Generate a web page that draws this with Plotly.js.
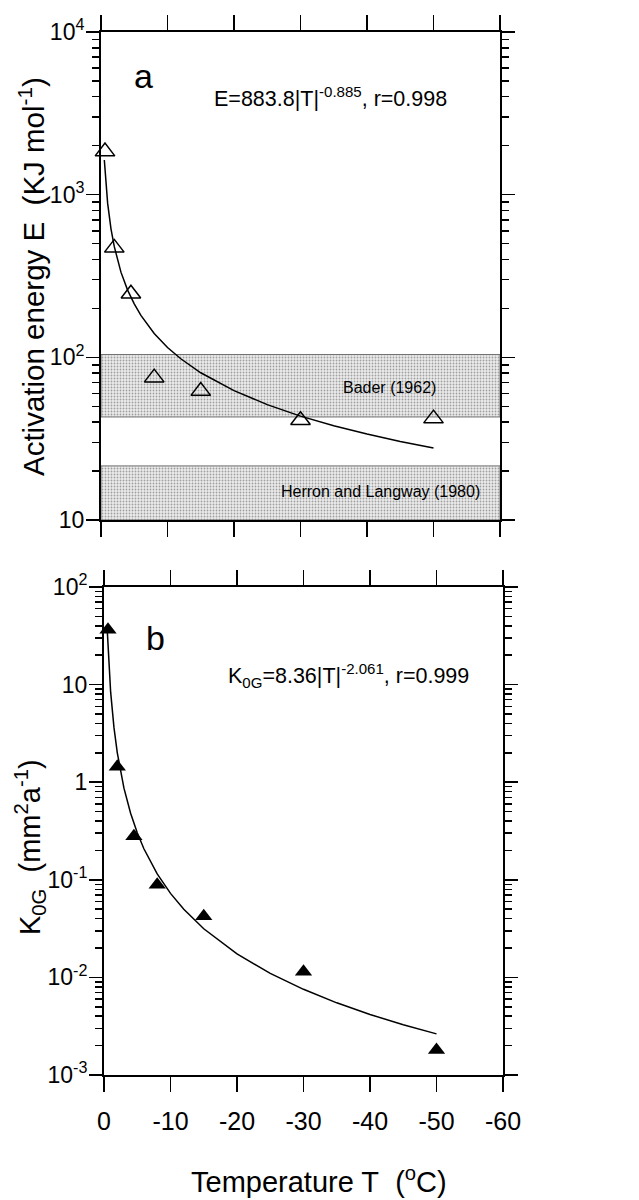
<!DOCTYPE html>
<html>
<head>
<meta charset="utf-8">
<script src="https://cdn.plot.ly/plotly-3.0.1.min.js"></script>
<style>html,body{margin:0;padding:0;background:#fff;}#chart{width:639px;height:1200px;}</style>
</head>
<body>
<div id="chart"></div>
<script>
// Observed temperatures (°C)
var obsT = [-0.6, -2, -4.5, -8, -15, -30, -50];
// Panel a: activation energy E (kJ/mol)
var obsE = [1840, 471, 246, 75, 62, 41, 42];
// Panel b: K0G (mm^2/a)
var obsK = [36.4, 1.44, 0.28, 0.089, 0.0423, 0.0114, 0.0018];
// Fitted curves
var fitT = [-0.5, -0.7, -1, -1.5, -2, -3, -4, -5, -6, -8, -10, -12, -15, -20, -25, -30, -35, -40, -45, -50];
var fitE = [1632, 1212, 884, 617, 479, 334, 259, 213, 181, 140, 115, 98, 80.4, 62.4, 51.2, 43.5, 38.0, 33.8, 30.4, 27.7];
var fitK = [34.9, 17.4, 8.36, 3.62, 2.00, 0.869, 0.480, 0.303, 0.208, 0.115, 0.0726, 0.0499, 0.0315, 0.0174, 0.0110, 0.00755, 0.00549, 0.00417, 0.00327, 0.00264];
// Reference ranges of E
var baderRange = [43, 104];
var herronRange = [10, 21.5];
var bandT = [0, -60];
// Tick labels
var xTicks = [0, -10, -20, -30, -40, -50, -60];
var xTickText = ['0', '-10', '-20', '-30', '-40', '-50', '-60'];
var yTicksA = [10, 100, 1000, 10000];
var yTickTextA = ['10', '10<sup>2</sup>', '10<sup>3</sup>', '10<sup>4</sup>'];
var yTicksB = [0.001, 0.01, 0.1, 1, 10, 100];
var yTickTextB = ['10<sup>-3</sup>', '10<sup>-2</sup>', '10<sup>-1</sup>', '1', '10', '10<sup>2</sup>'];

function minorVals(lo, hi) {
  var v = [];
  for (var e = lo; e < hi; e++) {
    for (var d = 2; d <= 9; d++) v.push(d * Math.pow(10, e));
  }
  return v;
}

function band(r, xa, ya) {
  return {
    x: [bandT[0], bandT[1], bandT[1], bandT[0], bandT[0]],
    y: [r[0], r[0], r[1], r[1], r[0]],
    xaxis: xa, yaxis: ya,
    mode: 'lines', fill: 'toself',
    fillcolor: 'rgb(225,225,225)',
    fillpattern: {shape: '.', fgcolor: 'rgb(160,160,160)', bgcolor: 'rgb(236,236,236)', size: 3, solidity: 0.3},
    line: {color: 'rgb(110,110,110)', width: 1},
    hoverinfo: 'skip'
  };
}

var FONT = 'Liberation Sans, Arial, sans-serif';
var NARROW = 'Liberation Sans Narrow, Liberation Sans, Arial, sans-serif';

var traces = [
  band(baderRange, 'x', 'y'),
  band(herronRange, 'x', 'y'),
  {x: fitT, y: fitE, xaxis: 'x', yaxis: 'y', mode: 'lines', line: {color: '#000', width: 1.5}},
  {x: obsT, y: obsE, xaxis: 'x', yaxis: 'y', mode: 'markers', cliponaxis: false,
   marker: {symbol: 'triangle-up-open', size: 17, color: '#000', line: {width: 1.5, color: '#000'}}},
  {x: fitT, y: fitK, xaxis: 'x2', yaxis: 'y2', mode: 'lines', line: {color: '#000', width: 1.5}},
  {x: obsT, y: obsK, xaxis: 'x2', yaxis: 'y2', mode: 'markers', cliponaxis: false,
   marker: {symbol: 'triangle-up', size: 15, color: '#000'}}
];

var W = 639, H = 1200;
function px(x) { return x / W; }
function py(y) { return 1 - y / H; }

var xCommon = {
  range: [0, -60], tickmode: 'array', tickvals: xTicks, ticktext: xTickText,
  ticks: 'outside', ticklen: 15, tickwidth: 1.5, tickcolor: '#000',
  showline: true, linewidth: 2, linecolor: '#000', mirror: 'ticks',
  showgrid: false, zeroline: false,
  tickfont: {family: FONT, size: 25, color: '#000'}
};
var yCommon = {
  type: 'log', tickmode: 'array',
  ticks: 'outside', ticklen: 13, tickwidth: 1.5, tickcolor: '#000',
  showline: true, linewidth: 2, linecolor: '#000', mirror: 'ticks',
  showgrid: false, zeroline: false, ticklabelstandoff: -3,
  tickfont: {family: FONT, size: 23, color: '#000'}
};

var layout = {
  width: W, height: H,
  margin: {l: 0, r: 0, t: 0, b: 0},
  paper_bgcolor: '#fff', plot_bgcolor: '#fff',
  showlegend: false,
  xaxis: Object.assign({}, xCommon, {domain: [px(101), px(500)], anchor: 'y', showticklabels: false}),
  xaxis2: Object.assign({}, xCommon, {domain: [px(104), px(503)], anchor: 'y2', showticklabels: true, ticklabelstandoff: 8}),
  yaxis: Object.assign({}, yCommon, {domain: [py(520), py(32)], anchor: 'x', range: [1, 4],
    tickvals: yTicksA, ticktext: yTickTextA,
    minor: {tickmode: 'array', tickvals: minorVals(1, 4), ticks: 'outside', ticklen: 7, tickwidth: 1.5, tickcolor: '#000'}}),
  yaxis2: Object.assign({}, yCommon, {domain: [py(1075), py(587)], anchor: 'x2', range: [-3, 2],
    tickvals: yTicksB, ticktext: yTickTextB,
    minor: {tickmode: 'array', tickvals: minorVals(-3, 2), ticks: 'outside', ticklen: 7, tickwidth: 1.5, tickcolor: '#000'}}),
  annotations: [
    {text: 'a', xref: 'paper', yref: 'paper', x: px(143), y: py(76), xanchor: 'center', yanchor: 'middle', showarrow: false,
     font: {family: FONT, size: 34, color: '#000'}},
    {text: 'b', xref: 'paper', yref: 'paper', x: px(155), y: py(638), xanchor: 'center', yanchor: 'middle', showarrow: false,
     font: {family: FONT, size: 34, color: '#000'}},
    {text: 'E=883.8|T|<sup>-0.885</sup>, r=0.998', xref: 'paper', yref: 'paper', x: px(212), y: py(97), xanchor: 'left', yanchor: 'middle', showarrow: false,
     font: {family: FONT, size: 21.5, color: '#000'}},
    {text: 'K<sub>0G</sub>=8.36|T|<sup>-2.061</sup>, r=0.999', xref: 'paper', yref: 'paper', x: px(226), y: py(675), xanchor: 'left', yanchor: 'middle', showarrow: false,
     font: {family: FONT, size: 21.5, color: '#000'}},
    {text: 'Bader (1962)', xref: 'paper', yref: 'paper', x: px(389), y: py(388), xanchor: 'center', yanchor: 'middle', showarrow: false,
     font: {family: NARROW, size: 16, color: '#000'}},
    {text: 'Herron and Langway (1980)', xref: 'paper', yref: 'paper', x: px(380), y: py(492), xanchor: 'center', yanchor: 'middle', showarrow: false,
     font: {family: NARROW, size: 16, color: '#000'}},
    {text: 'Activation energy E\u00a0\u00a0(KJ mol<sup>-1</sup>)', xref: 'paper', yref: 'paper', x: px(31), y: py(277), xanchor: 'center', yanchor: 'middle', textangle: -90, showarrow: false,
     font: {family: FONT, size: 29.5, color: '#000'}},
    {text: 'K<sub>0G</sub>\u00a0\u00a0(mm<sup>2</sup>a<sup>-1</sup>)', xref: 'paper', yref: 'paper', x: px(30), y: py(847), xanchor: 'center', yanchor: 'middle', textangle: -90, showarrow: false,
     font: {family: FONT, size: 29, color: '#000'}},
    {text: 'Temperature T\u00a0\u00a0(<sup>o</sup>C)', xref: 'paper', yref: 'paper', x: px(319), y: py(1180), xanchor: 'center', yanchor: 'middle', showarrow: false,
     font: {family: FONT, size: 29, color: '#000'}}
  ]
};

Plotly.newPlot('chart', traces, layout, {staticPlot: true, displayModeBar: false});
</script>
</body>
</html>
